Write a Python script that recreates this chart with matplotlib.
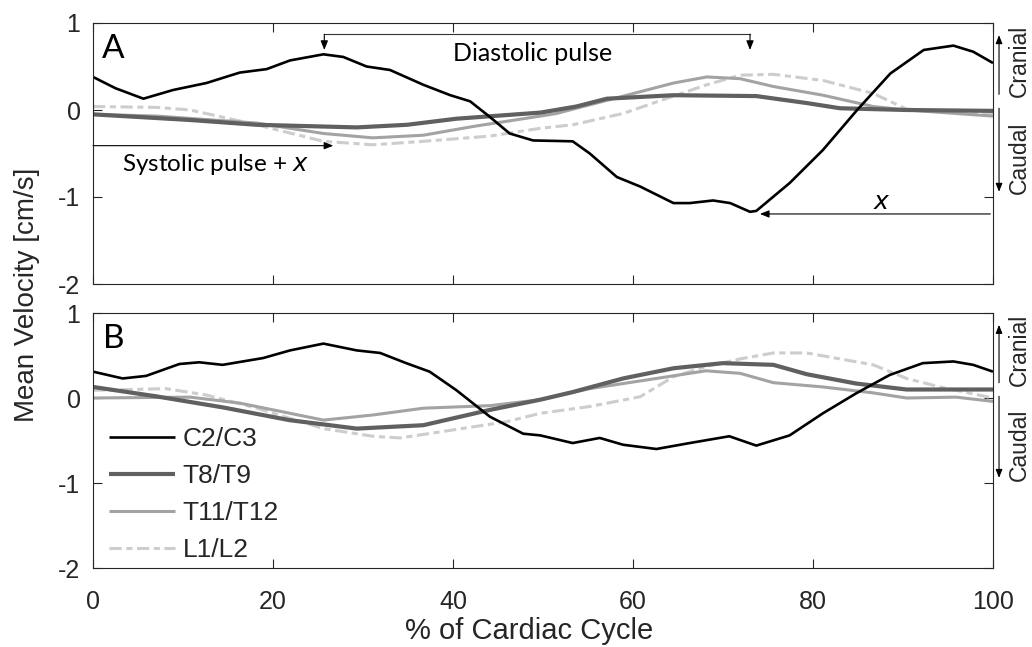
import numpy as np
import matplotlib
matplotlib.use("Agg")
import matplotlib.pyplot as plt

# ---- data (x = % of cardiac cycle, y = cm/s) ----
a_c2c3_x = [0, 2.5, 5.6, 8.9, 12.6, 16.3, 19.3, 21.9, 25.6, 27.8, 30.4, 33, 36.7, 39.7, 41.9,
            44.1, 46.3, 48.9, 53.3, 55.2, 58.2, 60.8, 64.5, 66.3, 68.9, 70.8, 73.0, 73.7,
            77.4, 81.1, 84.9, 88.6, 92.3, 95.6, 97.8, 100]
a_c2c3_y = [0.38, 0.25, 0.13, 0.23, 0.31, 0.43, 0.47, 0.57, 0.64, 0.61, 0.50, 0.46, 0.29, 0.17, 0.10,
            -0.08, -0.27, -0.35, -0.36, -0.50, -0.77, -0.88, -1.07, -1.07, -1.04, -1.07, -1.17, -1.16,
            -0.84, -0.46, 0.0, 0.42, 0.69, 0.74, 0.67, 0.54]
a_t8t9_x = [0, 10.8, 18.2, 29.3, 34.9, 40.4, 49.7, 53.7, 57.1, 64.5, 73.7, 79.3, 83, 90.4, 100]
a_t8t9_y = [-0.05, -0.115, -0.17, -0.20, -0.17, -0.10, -0.03, 0.04, 0.13, 0.17, 0.16, 0.08, 0.02, 0.0, -0.01]
a_t11_x = [0, 7.1, 18.2, 25.6, 31.1, 36.7, 42.2, 49.7, 51.5, 55.2, 60.8, 64.5, 68.2, 71.9, 75.6,
           81.1, 86.7, 90.4, 100]
a_t11_y = [-0.05, -0.07, -0.15, -0.27, -0.32, -0.29, -0.19, -0.07, -0.04, 0.06, 0.21, 0.31, 0.38, 0.36, 0.27,
           0.17, 0.04, 0.0, -0.07]
a_l1_x = [0, 7.1, 10.8, 18.2, 25.6, 31.1, 36.7, 44.1, 49.7, 53.3, 58.9, 64.5, 68.2, 71.9, 75.6,
          81.1, 86.7, 90.4, 100]
a_l1_y = [0.04, 0.03, 0.0, -0.17, -0.36, -0.40, -0.36, -0.30, -0.21, -0.17, -0.04, 0.16, 0.29, 0.40, 0.41,
          0.34, 0.19, 0.01, -0.05]

b_c2c3_x = [0, 3.3, 5.9, 9.6, 11.8, 14.4, 18.9, 21.9, 25.6, 29.3, 31.9, 34.8, 37.4, 40.4, 44.1,
            47.8, 49.7, 53.3, 56.3, 58.9, 62.6, 66.3, 70.7, 73.7, 77.4, 81.1, 84.8, 88.5, 92.2,
            95.6, 97.8, 100]
b_c2c3_y = [0.31, 0.23, 0.26, 0.40, 0.42, 0.39, 0.47, 0.56, 0.64, 0.56, 0.53, 0.41, 0.31, 0.09, -0.22,
            -0.42, -0.44, -0.53, -0.47, -0.55, -0.60, -0.53, -0.45, -0.56, -0.44, -0.18, 0.055, 0.27, 0.41,
            0.43, 0.39, 0.31]
b_t8t9_x = [0, 7, 14.4, 21.8, 29.3, 36.7, 44.1, 49.7, 53.3, 58.9, 64.5, 70, 75.6, 79.3, 84.8, 90.4, 100]
b_t8t9_y = [0.13, 0.02, -0.11, -0.26, -0.36, -0.32, -0.14, -0.02, 0.07, 0.23, 0.35, 0.41, 0.39, 0.28, 0.17, 0.10, 0.10]
b_t11_x = [0, 10.8, 16.3, 25.6, 31.1, 36.7, 44.1, 49.7, 55.2, 62.6, 68.1, 71.9, 75.6, 81.1, 86.7, 90.4, 95.9, 100]
b_t11_y = [0.0, 0.01, -0.06, -0.26, -0.20, -0.12, -0.09, -0.02, 0.11, 0.23, 0.32, 0.29, 0.18, 0.13, 0.06, 0.0, 0.01, -0.04]
b_l1_x = [0, 8.1, 12.6, 18.2, 25.6, 31.1, 34.1, 38.5, 45.9, 49.7, 55.2, 60.8, 64.5, 68.1, 71.9, 75.6,
          79.3, 83, 86.7, 90.4, 94.1, 100]
b_l1_y = [0.09, 0.11, 0.035, -0.12, -0.36, -0.45, -0.47, -0.40, -0.28, -0.18, -0.10, 0.015, 0.25, 0.37, 0.46, 0.53,
          0.53, 0.46, 0.39, 0.23, 0.13, 0.0]

labels = ["C2/C3", "T8/T9", "T11/T12", "L1/L2"]
x_ticks = [0, 20, 40, 60, 80, 100]
y_ticks = [-2, -1, 0, 1]

styles = [
    dict(color="black", lw=1.9, ls="-"),
    dict(color="#606060", lw=3.0, ls="-"),
    dict(color="#a3a3a3", lw=2.2, ls="-"),
    dict(color="#cdcdcd", lw=2.2, ls=(0, (4, 1.5, 2, 1.5))),
]

axcol = "#262626"
plt.rcParams["font.family"] = ["Liberation Sans", "DejaVu Sans"]
plt.rcParams["axes.unicode_minus"] = False
ann_font = "Lato"

fig = plt.figure(figsize=(10.32, 6.47), dpi=100)
W, H = 1032, 647
axA = fig.add_axes([93 / W, 1 - 284 / H, 900 / W, 261 / H])
axB = fig.add_axes([93 / W, 1 - 568 / H, 900 / W, 255 / H])

panels = [
    (axA, [(a_c2c3_x, a_c2c3_y), (a_t8t9_x, a_t8t9_y), (a_t11_x, a_t11_y), (a_l1_x, a_l1_y)], "A"),
    (axB, [(b_c2c3_x, b_c2c3_y), (b_t8t9_x, b_t8t9_y), (b_t11_x, b_t11_y), (b_l1_x, b_l1_y)], "B"),
]

for ax, series, letter in panels:
    for (xs, ys), st, lab in zip(series[::-1], styles[::-1], labels[::-1]):
        ax.plot(xs, ys, label=lab, solid_capstyle="butt", **st)
    ax.set_xlim(0, 100)
    ax.set_ylim(-2, 1)
    ax.set_xticks(x_ticks)
    ax.set_yticks(y_ticks)
    ax.tick_params(direction="in", length=6.5, width=0.8, colors=axcol, labelsize=18,
                   top=True, right=True, pad=9)
    ax.tick_params(axis="x", pad=16)
    for sp in ax.spines.values():
        sp.set_color(axcol)
        sp.set_linewidth(0.8)
    ax.text(2.3, 0.7, letter, fontsize=24, family=ann_font, ha="center", va="center")

    # cranial / caudal markers outside the right edge
    tr = ax.get_yaxis_transform()
    xr = 1.0067
    ax.annotate("", xy=(xr, 0.86), xytext=(xr, 0.18), xycoords=tr, textcoords=tr,
                annotation_clip=False,
                arrowprops=dict(arrowstyle="-|>,head_length=0.5,head_width=0.2", color="black", lw=0.8,
                                shrinkA=0, shrinkB=0))
    ax.annotate("", xy=(xr, -0.94), xytext=(xr, 0.02), xycoords=tr, textcoords=tr,
                annotation_clip=False,
                arrowprops=dict(arrowstyle="-|>,head_length=0.5,head_width=0.2", color="black", lw=0.8,
                                shrinkA=0, shrinkB=0))
    xt = (1019 - 93) / 900
    ax.text(xt, 0.57, "Cranial", transform=tr, rotation=90, ha="center", va="center",
            fontsize=16.5, color=axcol, clip_on=False)
    ax.text(xt, -0.55, "Caudal", transform=tr, rotation=90, ha="center", va="center",
            fontsize=16.5, color=axcol, clip_on=False)

axA.tick_params(axis="x", labelbottom=False)

# handles in legend order
h, l = axB.get_legend_handles_labels()
axB.legend(h[::-1], l[::-1], loc="lower left", frameon=False, fontsize=19, handlelength=2.5,
           handletextpad=0.3, labelspacing=0.5, borderaxespad=0.2, bbox_to_anchor=(0.0, -0.04),
           labelcolor=axcol)

# ---- annotations in panel A ----
head = "-|>,head_length=0.55,head_width=0.22"
akw = dict(arrowstyle=head, color="black", lw=0.8, shrinkA=0, shrinkB=0)
dia_x0, dia_x1, dia_top, dia_tip = 25.7, 73.0, 0.87, 0.69
axA.plot([dia_x0, dia_x1], [dia_top, dia_top], color="#333333", lw=0.8)
axA.annotate("", xy=(dia_x0, dia_tip), xytext=(dia_x0, dia_top), arrowprops=akw)
axA.annotate("", xy=(dia_x1, dia_tip), xytext=(dia_x1, dia_top), arrowprops=akw)
axA.text(48.8, 0.65, "Diastolic pulse", family=ann_font, fontsize=18, ha="center", va="center")

axA.annotate("", xy=(26.7, -0.41), xytext=(0, -0.41), arrowprops=akw)
axA.text(3.2, -0.63, "Systolic pulse + $x$", family=ann_font, fontsize=17.5, ha="left", va="center")

axA.annotate("", xy=(74.1, -1.195), xytext=(99.7, -1.195), arrowprops=akw)
axA.text(87.7, -1.06, "$x$", fontsize=18, ha="center", va="center")

fig.text(27 / W, 1 - 295 / H, "Mean Velocity [cm/s]", rotation=90, ha="center", va="center",
         fontsize=20, color=axcol)
fig.text(529 / W, 1 - 631 / H, "% of Cardiac Cycle", ha="center", va="center", fontsize=21, color=axcol)

fig.savefig("out.png", dpi=100)
